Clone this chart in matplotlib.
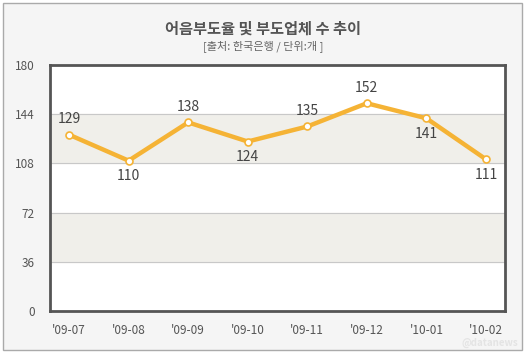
import matplotlib.pyplot as plt
from matplotlib.patches import Rectangle

plt.rcParams['font.family'] = ['Noto Sans CJK KR', 'DejaVu Sans']

months = ["'09-07", "'09-08", "'09-09", "'09-10", "'09-11", "'09-12", "'10-01", "'10-02"]
counts = [129, 110, 138, 124, 135, 152, 141, 111]
label_above = [True, False, True, False, True, True, False, False]
yticks = [0, 36, 72, 108, 144, 180]

fig = plt.figure(figsize=(5.26, 3.58), dpi=100)
fig.patch.set_facecolor("white")

# outer gray panel
fig.patches.append(Rectangle((3 / 526, 1 - 350 / 358), 519 / 526, 347 / 358,
                             transform=fig.transFigure, facecolor="#f5f5f5",
                             edgecolor="#aaaaaa", linewidth=1, zorder=-5))

ax = fig.add_axes([50 / 526, 1 - 311 / 358, 455 / 526, 246 / 358])
ax.set_zorder(2)
ax.set_facecolor("white")

x = list(range(len(months)))
ax.set_xlim(-0.32, len(months) - 1 + 0.32)
ax.set_ylim(0, 180)

# alternating bands
for lo, hi in [(36, 72), (108, 144)]:
    ax.axhspan(lo, hi, color="#f0efea", zorder=0)
for t in yticks[1:-1]:
    ax.axhline(t, color="#c8c8c8", linewidth=0.8, zorder=1)

ax.plot(x, counts, color="#f5b335", linewidth=3.2, zorder=3,
        marker="o", markersize=5, markerfacecolor="white",
        markeredgecolor="#f5b335", markeredgewidth=1.2)

for xi, v, up in zip(x, counts, label_above):
    ax.annotate(str(v), (xi, v), xytext=(0, 6 if up else -6), textcoords="offset points",
                ha="center", va="bottom" if up else "top", fontsize=10, color="#444444")

ax.set_xticks(x)
ax.set_xticklabels(months)
ax.set_yticks(yticks)
ax.tick_params(length=0, labelsize=8.5, colors="#555555")
ax.tick_params(axis="y", pad=11)
ax.tick_params(axis="x", pad=9)
for s in ax.spines.values():
    s.set_color("#555555")
    s.set_linewidth(2)

fig.text(0.5, 1 - 29 / 358, "어음부도율 및 부도업체 수 추이", ha="center", va="center",
         fontsize=11, fontweight="bold", color="#555555")
fig.text(0.5, 1 - 46 / 358, "[출처: 한국은행 / 단위:개 ]", ha="center", va="center",
         fontsize=8, color="#666666")
fig.text(518 / 526, 1 - 343 / 358, "@datanews", ha="right", va="center",
         fontsize=7, color="#e4e4e4", fontweight="bold")

fig.savefig("out.png", dpi=100)
